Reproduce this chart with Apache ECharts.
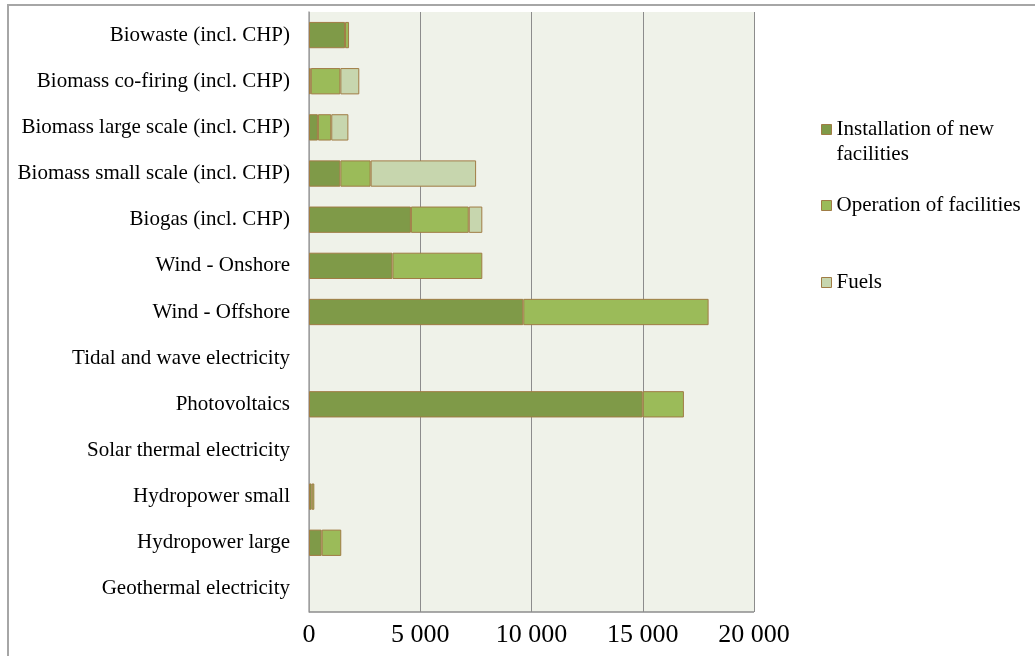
<!DOCTYPE html>
<html>
<head>
<meta charset="utf-8">
<script src="https://cdn.jsdelivr.net/npm/echarts@6/dist/echarts.min.js"></script>
<style>
  html, body { margin: 0; padding: 0; background: #ffffff; }
  #chart { width: 1035px; height: 656px; }
</style>
</head>
<body>
<div id="chart"></div>
<script>
// Technologies, listed top to bottom
const categories = [
  'Biowaste (incl. CHP)',
  'Biomass co-firing (incl. CHP)',
  'Biomass large scale (incl. CHP)',
  'Biomass small scale (incl. CHP)',
  'Biogas (incl. CHP)',
  'Wind - Onshore',
  'Wind - Offshore',
  'Tidal and wave electricity',
  'Photovoltaics',
  'Solar thermal electricity',
  'Hydropower small',
  'Hydropower large',
  'Geothermal electricity'
];

const installation = [1620, 80, 400, 1410, 4580, 3750, 9630, 0, 15000, 0, 120, 570, 0];
const operation    = [180, 1330, 600, 1360, 2600, 4040, 8330, 0, 1850, 0, 120, 880, 0];
const fuels        = [0, 850, 770, 4740, 610, 0, 0, 0, 0, 0, 0, 0, 0];

const seriesNames = ['Installation of new facilities', 'Operation of facilities', 'Fuels'];
const seriesColors = ['#7f9a48', '#9bbb59', '#c7d6ae'];
const xTicks = [0, 5000, 10000, 15000, 20000];

const FONT = '"Liberation Serif", "Times New Roman", serif';
const BORDER = '#a07c45';

function fmtThousands(v) {
  return String(v).replace(/\B(?=(\d{3})+(?!\d))/g, ' ');
}

function barSeries(name, data, color) {
  return {
    name: name,
    type: 'bar',
    stack: 'total',
    // empty segments are left out so they leave no outline at zero
    data: data.map(function (v) { return v === 0 ? null : v; }),
    barCategoryGap: '43%',
    itemStyle: { color: color, borderColor: BORDER, borderWidth: 1 },
    emphasis: { disabled: true }
  };
}

function legendItem(name, label, top) {
  return {
    data: [name],
    orient: 'vertical',
    icon: 'rect',
    left: 816,
    top: top,
    itemWidth: 10,
    itemHeight: 10,
    itemGap: 4,
    formatter: function () { return label; },
    textStyle: {
      fontFamily: FONT,
      fontSize: 21,
      color: '#000',
      lineHeight: 25,
      rich: {
        e: { fontSize: 21, lineHeight: 25, fontFamily: FONT },
        a: { fontSize: 21, lineHeight: 25, fontFamily: FONT, color: '#000' }
      }
    },
    itemStyle: { borderColor: BORDER, borderWidth: 1 }
  };
}

const chart = echarts.init(document.getElementById('chart'), null, { renderer: 'canvas' });

chart.setOption({
  animation: false,
  backgroundColor: '#ffffff',
  color: seriesColors,
  graphic: [
    {
      type: 'rect',
      shape: { x: 8, y: 5, width: 1200, height: 800 },
      style: { fill: 'none', stroke: '#a6a6a6', lineWidth: 2 },
      z: -10,
      silent: true
    }
  ],
  legend: [
    // two-line label: a blank first line keeps the marker level with "Installation of new"
    legendItem(seriesNames[0], '{e| }\n{a|Installation of new}\n{a|facilities}', 87),
    legendItem(seriesNames[1], 'Operation of facilities', 188),
    legendItem(seriesNames[2], 'Fuels', 265)
  ],
  grid: {
    left: 309,
    right: 281,
    top: 12,
    bottom: 44,
    show: true,
    backgroundColor: '#eff2e9',
    borderColor: '#8c8c8c',
    borderWidth: 0
  },
  xAxis: {
    type: 'value',
    min: 0,
    max: 20000,
    interval: 5000,
    axisLine: { show: false },
    axisTick: { show: false },
    splitLine: { show: true, lineStyle: { color: '#8c8c8c', width: 1 } },
    axisLabel: {
      fontFamily: FONT,
      fontSize: 26,
      color: '#000',
      margin: 10,
      formatter: function (v) { return xTicks.indexOf(v) >= 0 ? fmtThousands(v) : ''; }
    }
  },
  yAxis: {
    type: 'category',
    inverse: true,
    data: categories,
    axisLine: { show: true, lineStyle: { color: '#a6a6a6', width: 1.5 } },
    axisTick: { show: false },
    axisLabel: {
      fontFamily: FONT,
      fontSize: 21,
      color: '#000',
      margin: 19
    }
  },
  series: [
    barSeries(seriesNames[0], installation, seriesColors[0]),
    barSeries(seriesNames[1], operation, seriesColors[1]),
    barSeries(seriesNames[2], fuels, seriesColors[2]),
    {
      // frame line along the bottom of the plotting area
      type: 'line',
      data: [],
      markLine: {
        silent: true,
        symbol: 'none',
        label: { show: false },
        lineStyle: { color: '#8c8c8c', type: 'solid', width: 1.5 },
        data: [[{ x: 309, y: 612 }, { x: 754, y: 612 }]]
      }
    }
  ]
});
</script>
</body>
</html>
